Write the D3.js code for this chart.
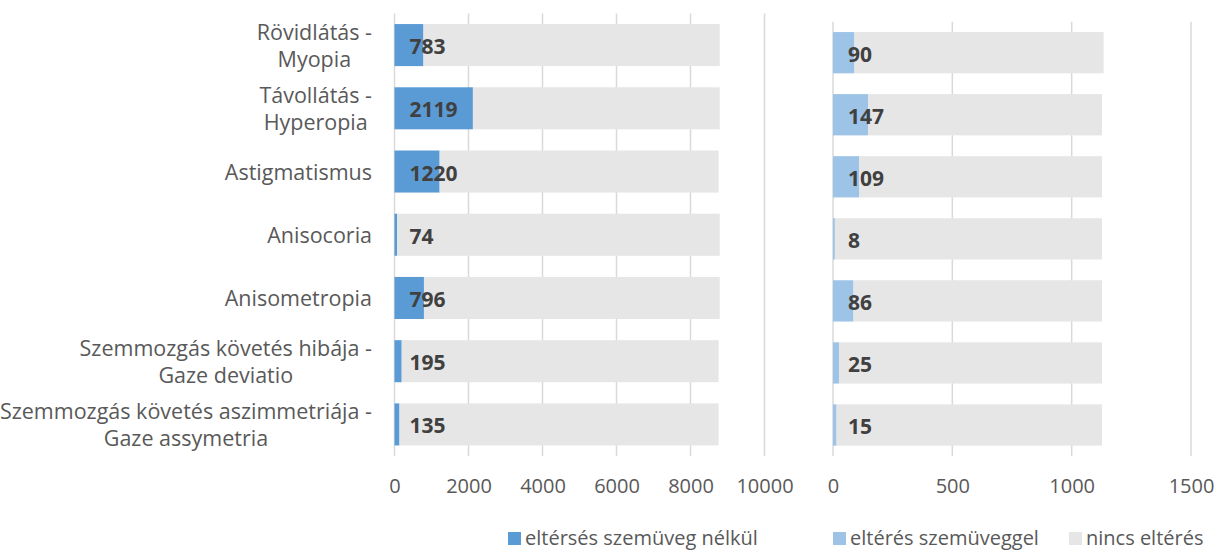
<!DOCTYPE html>
<html>
<head>
<meta charset="utf-8">
<script src="https://cdn.jsdelivr.net/npm/d3@7"></script>
<style>
  body { margin: 0; background: #fff; }
  text { font-family: "Open Sans", sans-serif; }
</style>
</head>
<body>
<svg width="1225" height="551"></svg>
<script>
// categories (lines of each label)
const categories = [
    ["Rövidlátás -", "Myopia"],
    ["Távollátás -", "Hyperopia"],
    ["Astigmatismus"],
    ["Anisocoria"],
    ["Anisometropia"],
    ["Szemmozgás követés hibája -", "Gaze deviatio"],
    ["Szemmozgás követés aszimmetriája -", "Gaze assymetria"]
];

// left panel: without glasses + no deviation
const withoutGlasses = [783, 2119, 1220, 74, 796, 195, 135];
const noDevLeft = [8007, 6671, 7540, 8716, 7994, 8565, 8625];

// right panel: with glasses + no deviation
const withGlasses = [90, 147, 109, 8, 86, 25, 15];
const noDevRight = [1044, 980, 1018, 1119, 1041, 1102, 1112];

const leftTicks = [0, 2000, 4000, 6000, 8000, 10000];
const rightTicks = [0, 500, 1000, 1500];

const legendLabels = ["eltérsés szemüveg nélkül", "eltérés szemüveggel", "nincs eltérés"];
const colors = ["#5B9BD5", "#9DC3E6", "#E7E6E6"];

const svg = d3.select("svg");
const keys = categories.map((c, i) => i);

function panel(opts) {
    const x = d3.scaleLinear().domain(opts.domain).range(opts.xRange);
    const y = d3.scaleBand().domain(keys).range(opts.yRange)
        .paddingInner(0.335).paddingOuter(0.167);

    const g = svg.append("g");

    // gridlines
    g.selectAll(".grid")
        .data(opts.ticks)
        .enter().append("line")
        .attr("x1", d => x(d)).attr("x2", d => x(d))
        .attr("y1", opts.yRange[0]).attr("y2", opts.yRange[1])
        .attr("stroke", "#D9D9D9")
        .attr("stroke-width", 1.5);

    const rows = keys.map(i => ({i: i, a: opts.first[i], b: opts.second[i]}));
    const stacked = d3.stack().keys(["a", "b"])(rows);

    g.selectAll(".series")
        .data(stacked)
        .enter().append("g")
        .attr("fill", (d, k) => k === 0 ? opts.color : colors[2])
      .selectAll("rect")
        .data(d => d)
        .enter().append("rect")
        .attr("x", d => x(d[0]))
        .attr("y", d => y(d.data.i))
        .attr("width", d => x(d[1]) - x(d[0]))
        .attr("height", y.bandwidth());

    // value labels
    g.selectAll(".val")
        .data(rows)
        .enter().append("text")
        .attr("x", x(0) + 15)
        .attr("y", d => y(d.i) + y.bandwidth() / 2 + 1)
        .attr("dominant-baseline", "central")
        .attr("fill", "#404040")
        .style("font-weight", "bold")
        .style("font-size", "21px")
        .text(d => d.a);

    // axis labels
    const ax = g.append("g")
        .attr("transform", "translate(0,474)")
        .call(d3.axisBottom(x).tickValues(opts.ticks).tickFormat(d3.format("d"))
            .tickSize(0).tickPadding(0));
    ax.select(".domain").remove();
    ax.selectAll("text")
        .attr("dy", null)
        .attr("y", 11)
        .attr("dominant-baseline", "central")
        .attr("fill", "#595959")
        .style("font-size", "20px")
        .style("font-family", "'Open Sans', sans-serif");

    return y;
}

const yLeft = panel({
    domain: [0, 10000], xRange: [394.5, 764.5], yRange: [13.5, 456],
    ticks: leftTicks, first: withoutGlasses, second: noDevLeft, color: colors[0]
});

panel({
    domain: [0, 1500], xRange: [833, 1191], yRange: [21.7, 456],
    ticks: rightTicks, first: withGlasses, second: noDevRight, color: colors[1]
});

// category labels
const lineH = 27;
const catG = svg.append("g");
categories.forEach((lines, i) => {
    const cy = yLeft(i) + yLeft.bandwidth() / 2;
    const t = catG.append("text")
        .attr("fill", "#595959")
        .style("font-size", "21.5px")
        .attr("text-anchor", "middle");
    lines.forEach((l, j) => {
        t.append("tspan")
            .attr("y", cy + (j - (lines.length - 1) / 2) * lineH)
            .attr("dominant-baseline", "central")
            .text(l);
    });
    let maxW = 0;
    t.selectAll("tspan").each(function() {
        maxW = Math.max(maxW, this.getComputedTextLength());
    });
    t.selectAll("tspan").attr("x", 372 - maxW / 2);
});

// legend
const legendX = [508, 833, 1069];
const leg = svg.append("g");
legendLabels.forEach((l, i) => {
    leg.append("rect")
        .attr("x", legendX[i]).attr("y", 532)
        .attr("width", 13).attr("height", 13)
        .attr("fill", colors[i]);
    leg.append("text")
        .attr("x", legendX[i] + 17)
        .attr("y", 537)
        .attr("dominant-baseline", "central")
        .attr("fill", "#595959")
        .style("font-size", "20px")
        .text(l);
});
</script>
</body>
</html>
